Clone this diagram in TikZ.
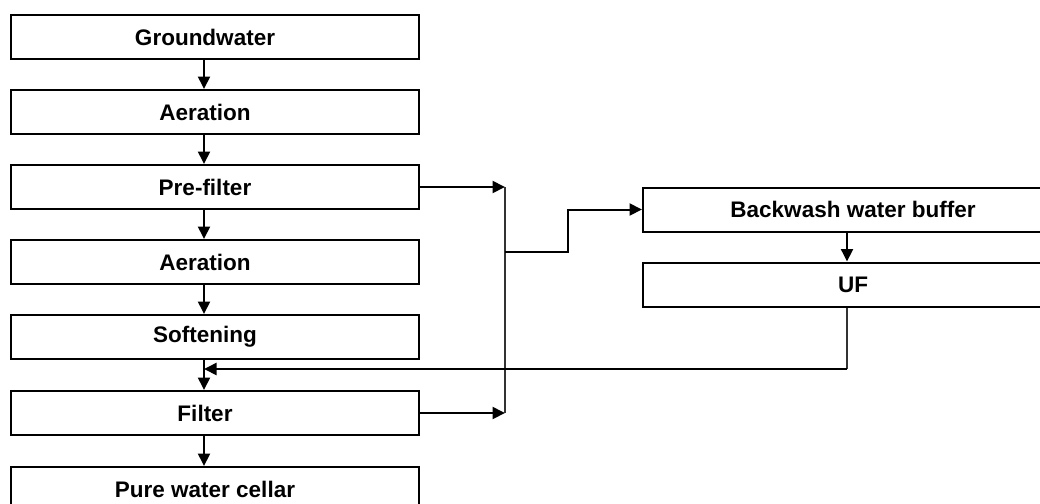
\documentclass[tikz,border=0pt]{standalone}
\usepackage{fontspec}
\setmainfont{Liberation Sans}
\usetikzlibrary{arrows.meta}
% label text sits a little left of the box centre
\newcommand\ltxt[1]{#1\hspace*{20pt}}
\begin{document}
\begin{tikzpicture}[x=1pt,y=-1pt,
  box/.style={draw, line width=2pt, minimum width=408pt, minimum height=44pt,
    inner sep=0pt, font=\bfseries\fontsize{22.5}{25}\selectfont},
  rbox/.style={box, minimum width=420pt},
  flow/.style={line width=2pt, -{Triangle[length=12.5pt,width=12pt]}},
  rail/.style={line width=1.6pt, draw=black!80}]
\useasboundingbox (0,0) rectangle (1040,503);
\clip (0,0) rectangle (1040,503);

% column guides
\coordinate (lc) at (204,0);
\coordinate (rc) at (847,0);
\coordinate (colx) at (505,0);
\coordinate (jog) at (568,0);
\coordinate (br) at (505,252);
\coordinate (ret) at (0,369);

% main treatment line
\node[box] (gw)   at (215,37)  {\ltxt{Groundwater}};
\node[box] (aer1) at (215,112) {\ltxt{Aeration}};
\node[box] (pre)  at (215,187) {\ltxt{Pre-filter}};
\node[box] (aer2) at (215,262) {\ltxt{Aeration}};
\node[box] (soft) at (215,337) {\ltxt{Softening}};
\node[box] (filt) at (215,413) {\ltxt{Filter}};
\node[box] (pure) at (215,489) {\ltxt{Pure water cellar}};

\foreach \a/\b in {gw/aer1,aer1/pre,pre/aer2,aer2/soft,soft/filt,filt/pure}
  \draw[flow] (\a.south -| lc) -- (\b.north -| lc);

% backwash treatment
\node[rbox] (bw) at (853,209.5) {Backwash water buffer};
\node[rbox] (uf) at (853,284.5) {UF};
\draw[flow] (bw.south -| rc) -- (uf.north -| rc);

% backwash water collection
\draw[flow] (pre.east) -- (pre.east -| colx);
\draw[flow] (filt.east) -- (filt.east -| colx);
\draw[rail] (pre.east -| colx) -- (filt.east -| colx);
\draw[flow] (br) -- (br -| jog) |- (bw.west);

% UF permeate returned before the filter
\draw[rail] (uf.south -| rc) -- (ret -| rc);
\draw[flow] (ret -| rc) -- (ret -| lc);
\end{tikzpicture}
\end{document}
